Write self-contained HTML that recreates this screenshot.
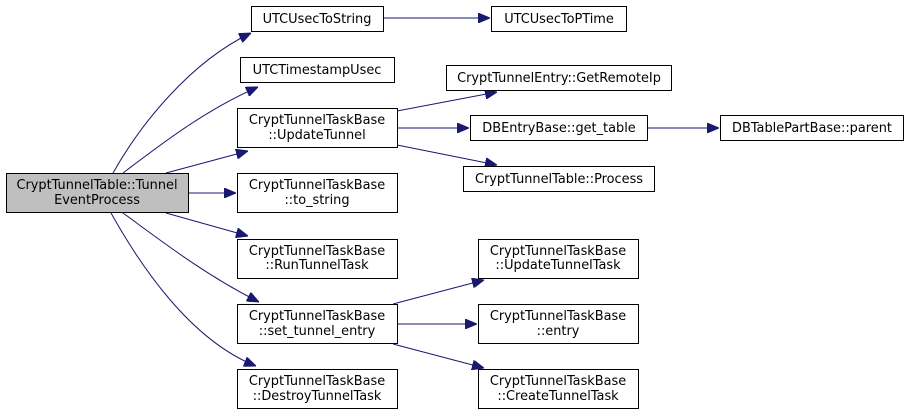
<!DOCTYPE html>
<html><head><meta charset="utf-8"><style>
html,body{margin:0;padding:0;background:#fff;width:909px;height:415px;overflow:hidden}
text{font-family:"DejaVu Sans","Liberation Sans",sans-serif;font-size:12.9px;fill:#000}
</style></head><body>
<svg width="909" height="415" viewBox="0 0 909 415" xmlns="http://www.w3.org/2000/svg">
<defs><marker id="a" markerWidth="12" markerHeight="10" refX="12" refY="5" orient="auto" markerUnits="userSpaceOnUse"><path d="M0,0 L12,5 L0,10 z" fill="#191970" stroke="#191970"/></marker></defs>
<g fill="none" stroke="#191970" stroke-width="1" marker-end="url(#a)">
<path d="M113,173 C140,125 190,62 251,33"/>
<path d="M123,173 C160,145 205,110 258,87"/>
<path d="M166,173 L248,151"/>
<path d="M189,193 L236,193"/>
<path d="M166,213 L248,236"/>
<path d="M123,213 C160,240 205,275 259,302"/>
<path d="M111,213 C140,265 190,340 256,366"/>
<path d="M383,18 L490,18"/>
<path d="M397,111 L497,92"/>
<path d="M397,128 L469,128"/>
<path d="M397,145 L497,165"/>
<path d="M647,128 L719,128"/>
<path d="M393,304 L484,280"/>
<path d="M397,324 L477,324"/>
<path d="M393,344 L484,368"/>
</g>
<g stroke="#000" stroke-width="1" fill="#fff">
<rect x="6.5" y="173.5" width="182" height="39" fill="#bfbfbf"/>
<rect x="251.5" y="6.5" width="132" height="25"/>
<rect x="240.5" y="57.5" width="154" height="25"/>
<rect x="237.5" y="108.5" width="160" height="39"/>
<rect x="237.5" y="173.5" width="160" height="39"/>
<rect x="237.5" y="239.5" width="160" height="39"/>
<rect x="237.5" y="304.5" width="160" height="39"/>
<rect x="237.5" y="369.5" width="160" height="39"/>
<rect x="491.5" y="6.5" width="135" height="25"/>
<rect x="446.5" y="65.5" width="225" height="25"/>
<rect x="470.5" y="115.5" width="177" height="25"/>
<rect x="720.5" y="115.5" width="183" height="25"/>
<rect x="463.5" y="166.5" width="191" height="25"/>
<rect x="478.5" y="239.5" width="160" height="39"/>
<rect x="478.5" y="304.5" width="160" height="39"/>
<rect x="478.5" y="369.5" width="160" height="39"/>
</g>
<g text-anchor="middle">
<text x="97" y="189">CryptTunnelTable::Tunnel</text><text x="97" y="204">EventProcess</text>
<text x="317" y="23">UTCUsecToString</text>
<text x="317" y="74">UTCTimestampUsec</text>
<text x="317" y="124">CryptTunnelTaskBase</text><text x="317" y="139">::UpdateTunnel</text>
<text x="317" y="189">CryptTunnelTaskBase</text><text x="317" y="204">::to_string</text>
<text x="317" y="255">CryptTunnelTaskBase</text><text x="317" y="269">::RunTunnelTask</text>
<text x="317" y="320">CryptTunnelTaskBase</text><text x="317" y="335">::set_tunnel_entry</text>
<text x="317" y="385">CryptTunnelTaskBase</text><text x="317" y="400">::DestroyTunnelTask</text>
<text x="559" y="23">UTCUsecToPTime</text>
<text x="559" y="82">CryptTunnelEntry::GetRemoteIp</text>
<text x="559" y="132">DBEntryBase::get_table</text>
<text x="812" y="132">DBTablePartBase::parent</text>
<text x="559" y="183">CryptTunnelTable::Process</text>
<text x="558" y="255">CryptTunnelTaskBase</text><text x="558" y="269">::UpdateTunnelTask</text>
<text x="558" y="320">CryptTunnelTaskBase</text><text x="558" y="335">::entry</text>
<text x="558" y="385">CryptTunnelTaskBase</text><text x="558" y="400">::CreateTunnelTask</text>
</g>
</svg>
</body></html>
